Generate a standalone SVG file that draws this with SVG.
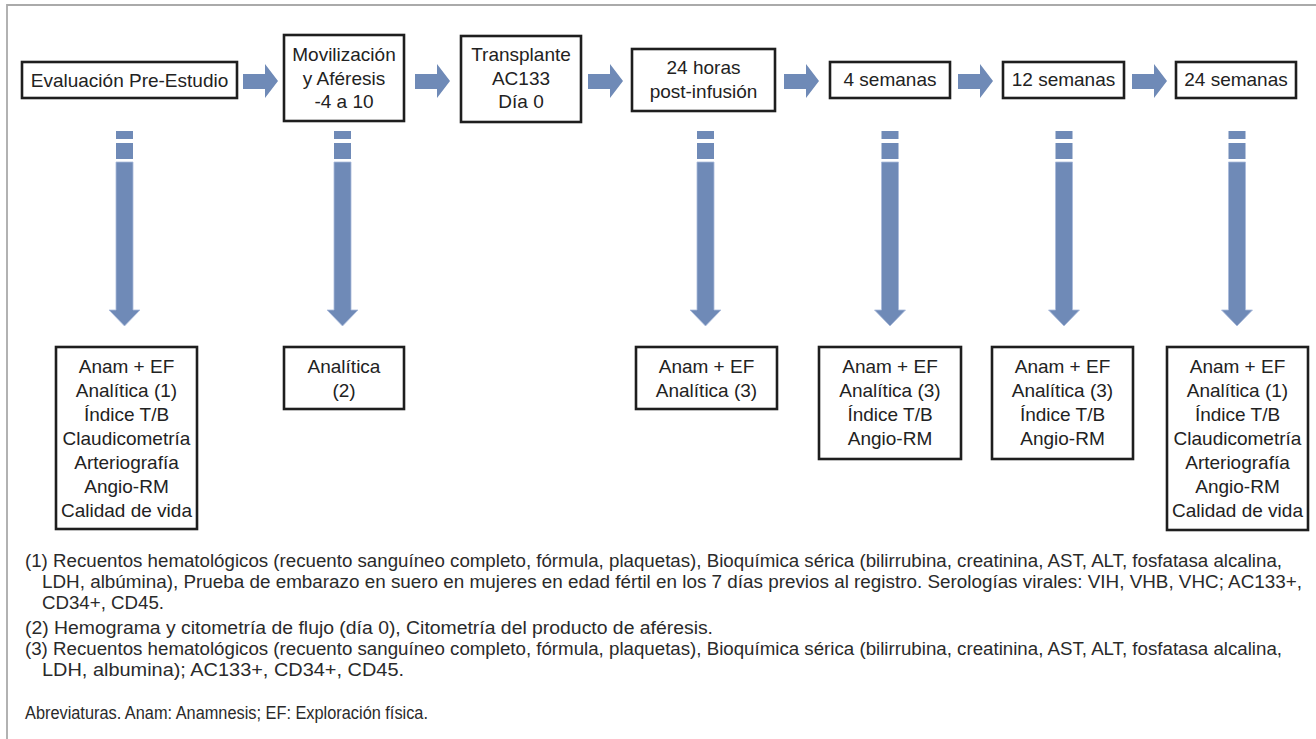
<svg xmlns="http://www.w3.org/2000/svg" xmlns:xlink="http://www.w3.org/1999/xlink" width="1316" height="739" viewBox="0 0 1316 739">
<style>
.box{fill:#fff;stroke:#1e1e1e;stroke-width:2.6}
.t{font-family:"Liberation Sans",Arial,sans-serif;font-size:19px;fill:#222;text-anchor:middle}
.fn{font-family:"Liberation Sans",Arial,sans-serif;font-size:17.5px;fill:#2a2a2a}
.arr{fill:#6F8AB7}
.frame{stroke:#aaaaaa;stroke-width:1.8;fill:none}
</style>
<defs>
<polygon id="harrow" class="arr" points="0,74 22,74 22,64 35,81 22,98 22,89 0,89"/>
<g id="varrow" class="arr">
<rect x="-8.5" y="131" width="17" height="8"/>
<rect x="-8.5" y="143" width="17" height="16"/>
<polygon points="-8.5,162 8.5,162 8.5,310 15.5,310 0,326 -15.5,310 -8.5,310" stroke="#a9badb" stroke-width="0.8"/>
</g>
</defs>
<rect width="1316" height="739" fill="#fff"/>
<path class="frame" d="M7,739 V5 H1316"/>

<g id="connectors">
<use xlink:href="#harrow" x="243"/>
<use xlink:href="#harrow" x="415"/>
<use xlink:href="#harrow" x="588"/>
<use xlink:href="#harrow" x="784"/>
<use xlink:href="#harrow" x="958"/>
<use xlink:href="#harrow" x="1132"/>
<use xlink:href="#varrow" x="124.5"/>
<use xlink:href="#varrow" x="342.5"/>
<use xlink:href="#varrow" x="705.5"/>
<use xlink:href="#varrow" x="890"/>
<use xlink:href="#varrow" x="1064"/>
<use xlink:href="#varrow" x="1237"/>
</g>

<g id="n-pre">
<rect class="box" x="22" y="62" width="215" height="36"/>
<text class="t" x="129.5" y="87">Evaluación Pre-Estudio</text>
</g>
<g id="n-movil">
<rect class="box" x="284" y="35" width="120" height="86"/>
<text class="t" x="344" y="61">Movilización</text>
<text class="t" x="344" y="85">y Aféresis</text>
<text class="t" x="344" y="108">-4 a 10</text>
</g>
<g id="n-trans">
<rect class="box" x="461" y="36" width="120" height="86"/>
<text class="t" x="521" y="61">Transplante</text>
<text class="t" x="521" y="85">AC133</text>
<text class="t" x="521" y="108">Día 0</text>
</g>
<g id="n-24h">
<rect class="box" x="632" y="49" width="143" height="62"/>
<text class="t" x="703.5" y="74">24 horas</text>
<text class="t" x="703.5" y="98">post-infusión</text>
</g>
<g id="n-4s">
<rect class="box" x="830" y="62" width="120" height="36"/>
<text class="t" x="890" y="86">4 semanas</text>
</g>
<g id="n-12s">
<rect class="box" x="1003" y="62" width="121" height="36"/>
<text class="t" x="1063.5" y="86">12 semanas</text>
</g>
<g id="n-24s">
<rect class="box" x="1176" y="62" width="120" height="36"/>
<text class="t" x="1236" y="86">24 semanas</text>
</g>

<g id="r-pre">
<rect class="box" x="56" y="347" width="141" height="182"/>
<text class="t" x="126.5" y="373">Anam + EF</text>
<text class="t" x="126.5" y="397">Analítica (1)</text>
<text class="t" x="126.5" y="421">Índice T/B</text>
<text class="t" x="126.5" y="445">Claudicometría</text>
<text class="t" x="126.5" y="469">Arteriografía</text>
<text class="t" x="126.5" y="493">Angio-RM</text>
<text class="t" x="126.5" y="517">Calidad de vida</text>
</g>
<g id="r-movil">
<rect class="box" x="284" y="347" width="120" height="62"/>
<text class="t" x="344" y="373">Analítica</text>
<text class="t" x="344" y="397">(2)</text>
</g>
<g id="r-24h">
<rect class="box" x="636" y="347" width="141" height="62"/>
<text class="t" x="706.5" y="373">Anam + EF</text>
<text class="t" x="706.5" y="397">Analítica (3)</text>
</g>
<g id="r-4s">
<rect class="box" x="819" y="347" width="142" height="112"/>
<text class="t" x="890" y="373">Anam + EF</text>
<text class="t" x="890" y="397">Analítica (3)</text>
<text class="t" x="890" y="421">Índice T/B</text>
<text class="t" x="890" y="445">Angio-RM</text>
</g>
<g id="r-12s">
<rect class="box" x="992" y="347" width="141" height="112"/>
<text class="t" x="1062.5" y="373">Anam + EF</text>
<text class="t" x="1062.5" y="397">Analítica (3)</text>
<text class="t" x="1062.5" y="421">Índice T/B</text>
<text class="t" x="1062.5" y="445">Angio-RM</text>
</g>
<g id="r-24s">
<rect class="box" x="1167" y="347" width="141" height="183"/>
<text class="t" x="1237.5" y="373">Anam + EF</text>
<text class="t" x="1237.5" y="397">Analítica (1)</text>
<text class="t" x="1237.5" y="421">Índice T/B</text>
<text class="t" x="1237.5" y="445">Claudicometría</text>
<text class="t" x="1237.5" y="469">Arteriografía</text>
<text class="t" x="1237.5" y="493">Angio-RM</text>
<text class="t" x="1237.5" y="517">Calidad de vida</text>
</g>

<g id="footnotes">
<text class="fn" x="25" y="567" textLength="1257" lengthAdjust="spacingAndGlyphs">(1) Recuentos hematológicos (recuento sanguíneo completo, fórmula, plaquetas), Bioquímica sérica (bilirrubina, creatinina, AST, ALT, fosfatasa alcalina,</text>
<text class="fn" x="42" y="588" textLength="1260" lengthAdjust="spacingAndGlyphs">LDH, albúmina), Prueba de embarazo en suero en mujeres en edad fértil en los 7 días previos al registro. Serologías virales: VIH, VHB, VHC; AC133+,</text>
<text class="fn" x="42" y="609" textLength="122" lengthAdjust="spacingAndGlyphs">CD34+, CD45.</text>
<text class="fn" x="25" y="634" textLength="688" lengthAdjust="spacingAndGlyphs">(2) Hemograma y citometría de flujo (día 0), Citometría del producto de aféresis.</text>
<text class="fn" x="25" y="655" textLength="1257" lengthAdjust="spacingAndGlyphs">(3) Recuentos hematológicos (recuento sanguíneo completo, fórmula, plaquetas), Bioquímica sérica (bilirrubina, creatinina, AST, ALT, fosfatasa alcalina,</text>
<text class="fn" x="42" y="676" textLength="362" lengthAdjust="spacingAndGlyphs">LDH, albumina); AC133+, CD34+, CD45.</text>
<text class="fn" x="25" y="719" textLength="403" lengthAdjust="spacingAndGlyphs">Abreviaturas. Anam: Anamnesis; EF: Exploración física.</text>
</g>
</svg>
